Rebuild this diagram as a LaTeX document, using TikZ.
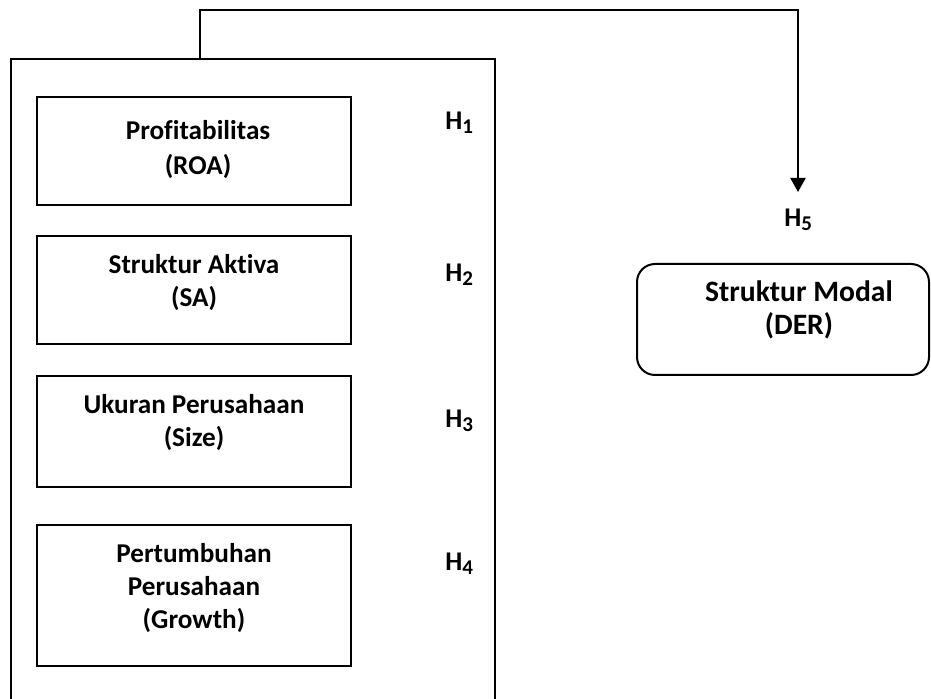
\documentclass[tikz,border=0pt]{standalone}
\usepackage{fontspec}
\setmainfont{Carlito}[Ligatures=NoCommon]
\usetikzlibrary{arrows.meta}

\tikzset{
  varbox/.style={draw, line width=1pt, minimum width=157pt, inner sep=0pt},
  vartext/.style={align=center, font=\bfseries\fontsize{13.6}{16.5}\selectfont},
  hyplabel/.style={anchor=base west, inner sep=0pt, font=\bfseries\fontsize{13.5}{15}\selectfont},
}
\newcommand{\hyp}[1]{H\raisebox{-2pt}{\fontsize{10.5}{10.5}\selectfont #1}}

\begin{document}
\begin{tikzpicture}[x=0.5pt,y=-0.5pt]
  \useasboundingbox (0,0) rectangle (931,699);

  % frame round the independent variables
  \node[draw, line width=1pt, minimum width=242pt, minimum height=331pt,
        anchor=north west, inner sep=0pt] (frame) at (10,58) {};

  % independent variables
  \node[varbox, minimum height=54pt] (roa) at (194,151) {};
  \node[vartext, font=\bfseries\fontsize{13.6}{17.5}\selectfont] (roatxt) at (198,150) {Profitabilitas\\(ROA)};
  \node[varbox, minimum height=54pt] (sa) at (194,290) {};
  \node[vartext] (satxt) at (194,283) {Struktur Aktiva\\(SA)};
  \node[varbox, minimum height=55.5pt] (size) at (194,431.5) {};
  \node[vartext] (sizetxt) at (194,423) {Ukuran Perusahaan\\(Size)};
  \node[varbox, minimum height=70.5pt] (growth) at (194,595.5) {};
  \node[vartext] (growthtxt) at (194,588) {Pertumbuhan\\Perusahaan\\(Growth)};

  % dependent variable
  \node[draw, line width=1pt, rounded corners=9pt, minimum width=146pt,
        minimum height=55.5pt, inner sep=0pt] (der) at (783,319.5) {};
  \node[vartext, font=\bfseries\fontsize{14.8}{16.5}\selectfont] (dertxt) at (799,310) {Struktur Modal\\(DER)};

  % hypotheses
  \node[hyplabel] (h1) at (445,130) {\hyp{1}};
  \node[hyplabel] (h2) at (445,282) {\hyp{2}};
  \node[hyplabel] (h3) at (445,428) {\hyp{3}};
  \node[hyplabel] (h4) at (445,570) {\hyp{4}};
  \node[hyplabel] (h5) at (784,227) {\hyp{5}};

  % simultaneous effect
  \coordinate (tap) at (200,58);
  \coordinate (bend) at (798,10);
  \coordinate (tip) at (798,192);
  \draw[line width=1pt, -{Triangle[length=7pt,width=7.5pt]}] (tap) |- (bend) -- (tip);
\end{tikzpicture}
\end{document}
